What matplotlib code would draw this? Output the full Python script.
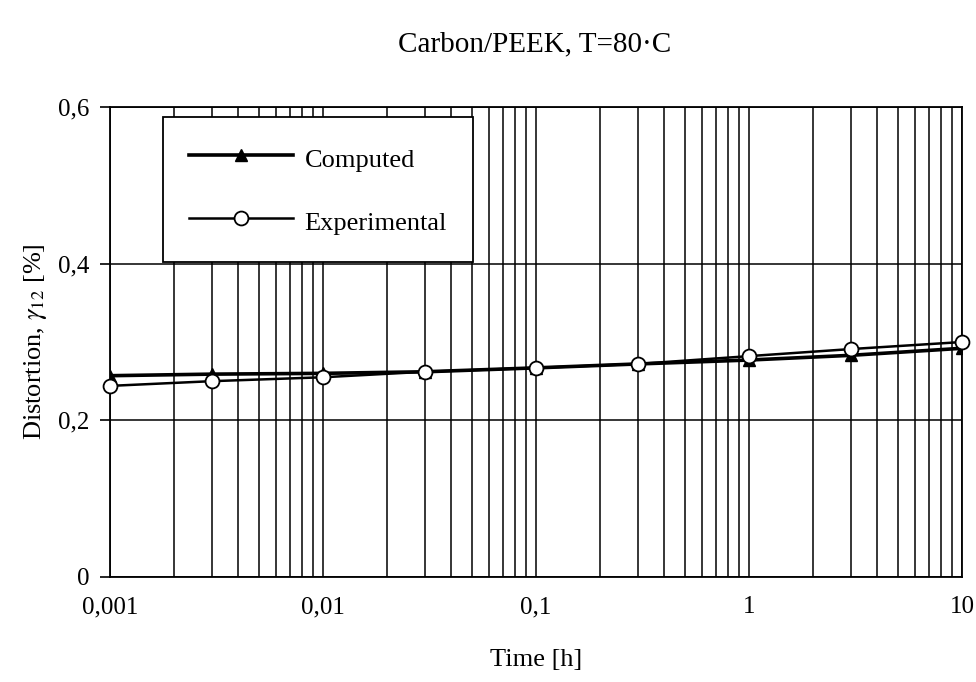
import matplotlib
matplotlib.use("Agg")
import matplotlib.pyplot as plt
from matplotlib.ticker import FixedLocator, FixedFormatter, LogLocator, NullFormatter

# data
time_h = [0.001, 0.003, 0.01, 0.03, 0.1, 0.3, 1, 3, 10]
computed = [0.257, 0.259, 0.260, 0.262, 0.267, 0.272, 0.277, 0.283, 0.292]
experimental = [0.244, 0.250, 0.255, 0.262, 0.267, 0.272, 0.282, 0.291, 0.300]

xticks = [0.001, 0.01, 0.1, 1, 10]
xlabels = ["0,001", "0,01", "0,1", "1", "10"]
yticks = [0, 0.2, 0.4, 0.6]
ylabels = ["0", "0,2", "0,4", "0,6"]

plt.rcParams["font.family"] = ["Liberation Serif", "DejaVu Serif"]
plt.rcParams["mathtext.fontset"] = "stix"

fig = plt.figure(figsize=(9.76, 6.82), dpi=100)
ax = fig.add_axes([0.1127, 0.154, 0.873, 0.689])

ax.set_xscale("log")
ax.set_xlim(0.001, 10)
ax.set_ylim(0, 0.6)

# grid: every log minor line plus the y ticks
ax.xaxis.set_major_locator(FixedLocator(xticks))
ax.xaxis.set_major_formatter(FixedFormatter(xlabels))
ax.xaxis.set_minor_locator(LogLocator(base=10, subs=range(2, 10)))
ax.xaxis.set_minor_formatter(NullFormatter())
ax.yaxis.set_major_locator(FixedLocator(yticks))
ax.yaxis.set_major_formatter(FixedFormatter(ylabels))
ax.grid(True, which="both", axis="x", color="black", lw=1.1)
ax.grid(True, which="major", axis="y", color="black", lw=1.1)
ax.tick_params(axis="x", which="both", length=0, labelsize=18, pad=14)
ax.tick_params(axis="y", which="major", length=7, width=1.2, direction="out", labelsize=18, pad=8)
for s in ax.spines.values():
    s.set_linewidth(1.3)

ax.plot(time_h, computed, color="black", lw=2.6, marker="^", ms=8,
        mfc="black", mec="black", label="Computed", zorder=3)
ax.plot(time_h, experimental, color="black", lw=1.8, marker="o", ms=10,
        mfc="white", mec="black", mew=1.3, label="Experimental", zorder=4,
        clip_on=False)

leg = ax.legend(loc="upper left", bbox_to_anchor=(0.062, 0.979), borderaxespad=0,
                fontsize=19, handlelength=3.95, handleheight=1.3, handletextpad=0.42,
                borderpad=1.0, labelspacing=1.3, fancybox=False, framealpha=1,
                edgecolor="black")
leg.get_frame().set_linewidth(1.3)

ax.set_xlabel("Time [h]", fontsize=19, labelpad=22)
ax.set_ylabel(r"Distortion, $\gamma_{12}$ [%]", fontsize=19, labelpad=6)
fig.text(0.548, 0.935, "Carbon/PEEK, T=80\u00b7C", ha="center", va="center", fontsize=21)

fig.savefig("out.png", dpi=100, facecolor="white")
